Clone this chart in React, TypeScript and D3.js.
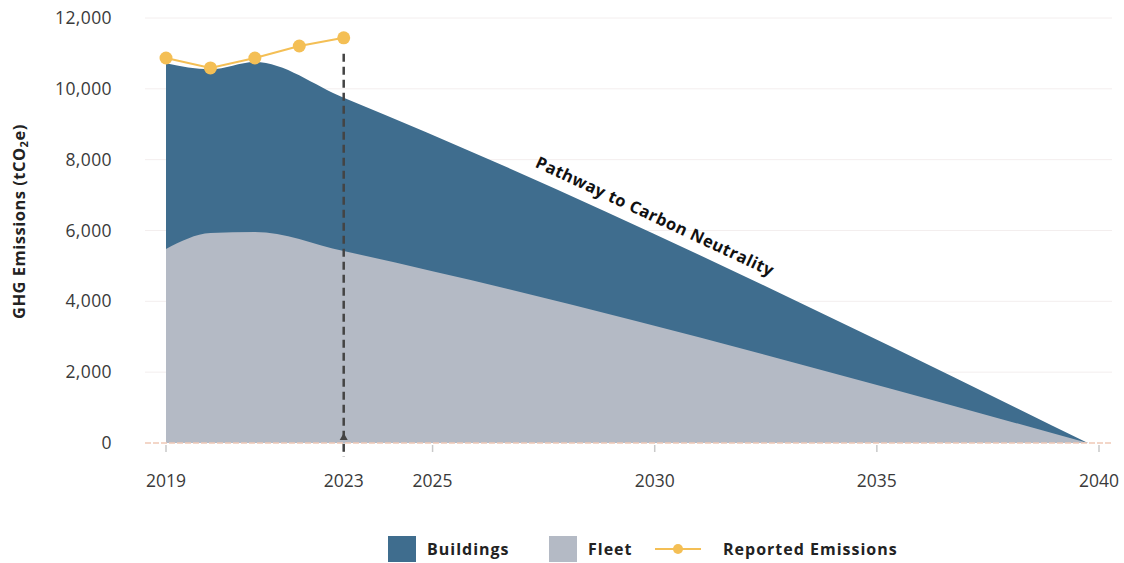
import React from "react";
import * as d3 from "d3";

const fleetYears = [2019, 2020, 2021, 2023, 2039.75];
const fleetValues = [5480, 5930, 5960, 5420, 0];
const totalYears = [2019, 2020, 2021, 2023, 2039.75];
const totalValues = [10720, 10550, 10760, 9750, 0];
const reportedYears = [2019, 2020, 2021, 2022, 2023];
const reportedValues = [10870, 10590, 10870, 11210, 11440];
const yTicks = [0, 2000, 4000, 6000, 8000, 10000, 12000];
const xTicks = [2019, 2023, 2025, 2030, 2035, 2040];

const W = 1124;
const H = 563;
const BLUE = "#3f6d8e";
const GRAY = "#b4bac5";
const ORANGE = "#f4bf55";
const FONT = "'Open Sans', Lato, sans-serif";

export default function App() {
  const x = d3.scaleLinear().domain([2019, 2040]).range([166, 1099]);
  const y = d3.scaleLinear().domain([0, 12000]).range([443, 18]);

  const total = totalYears.map((yr, i) => ({ x: yr, v: totalValues[i] }));
  const fleet = fleetYears.map((yr, i) => ({ x: yr, v: fleetValues[i] }));
  const reported = reportedYears.map((yr, i) => ({ x: yr, v: reportedValues[i] }));

  const area = d3
    .area<{ x: number; v: number }>()
    .x((d) => x(d.x))
    .y0(y(0))
    .y1((d) => y(d.v))
    .curve(d3.curveMonotoneX);
  const line = d3
    .line<{ x: number; v: number }>()
    .x((d) => x(d.x))
    .y((d) => y(d.v));

  const annX = x(2029.95);
  const annY = y(6250);

  return (
    <svg
      width={W}
      height={H}
      style={{ position: "absolute", left: 0, top: 0, background: "#fff" }}
      fontFamily={FONT}
    >
      {yTicks.slice(1).map((t) => (
        <line key={t} x1={145} x2={1112} y1={y(t)} y2={y(t)} stroke="#f3eeee" strokeWidth={1} />
      ))}
      <path d={area(total) || ""} fill={BLUE} />
      <path d={area(fleet) || ""} fill={GRAY} />
      <line x1={145} x2={1112} y1={y(0)} y2={y(0)} stroke="#f0c9b6" strokeWidth={1.5} strokeDasharray="6 2" />
      {xTicks.map((t) => (
        <line key={t} x1={x(t)} x2={x(t)} y1={y(0) + 2} y2={y(0) + 9} stroke="#c9c9c9" strokeWidth={1.5} />
      ))}
      {yTicks.map((t) => (
        <text key={t} x={112} y={y(t)} dy="0.35em" textAnchor="end" fontSize={17.5} letterSpacing={0.4} fill="#3a3a3a">
          {d3.format(",")(t)}
        </text>
      ))}
      {xTicks.map((t) => (
        <text key={t} x={x(t)} y={481} dy="0.35em" textAnchor="middle" fontSize={17.5} fill="#3a3a3a">
          {t}
        </text>
      ))}
      <text
        transform={`translate(19,${y(6250)}) rotate(-90)`}
        textAnchor="middle"
        dy="0.35em"
        fontSize={16.5}
        letterSpacing={0.5}
        fontWeight="bold"
        fill="#222"
      >
        GHG Emissions (tCO<tspan fontSize={11} dy="3">2</tspan><tspan dy="-3">e)</tspan>
      </text>
      {/* 2023 marker */}
      <line
        x1={x(2023)}
        x2={x(2023)}
        y1={y(11440) + 16}
        y2={y(0) + 14}
        stroke="#444"
        strokeWidth={2.5}
        strokeDasharray="8 5"
      />
      <path d={`M${x(2023)},${y(0) - 10} l-4,7 l8,0 z`} fill="#444" />
      <path d={line(reported) || ""} fill="none" stroke={ORANGE} strokeWidth={2} />
      {reported.map((d, i) => (
        <circle key={i} cx={x(d.x)} cy={y(d.v)} r={6.5} fill={ORANGE} />
      ))}
      <text
        transform={`translate(${annX},${annY}) rotate(25)`}
        textAnchor="middle"
        fontSize={16.5}
        letterSpacing={0.5}
        fontWeight="bold"
        fill="#111"
      >
        Pathway to Carbon Neutrality
      </text>
      {/* legend */}
      <rect x={388} y={536} width={28} height={26} fill={BLUE} />
      <text x={427} y={549} dy="0.35em" fontSize={16} fontWeight="bold" letterSpacing={1} fill="#222">
        Buildings
      </text>
      <rect x={549} y={536} width={28} height={26} fill={GRAY} />
      <text x={588} y={549} dy="0.35em" fontSize={16} fontWeight="bold" letterSpacing={1} fill="#222">
        Fleet
      </text>
      <line x1={655} x2={701} y1={549} y2={549} stroke={ORANGE} strokeWidth={2} />
      <circle cx={678} cy={549} r={5} fill={ORANGE} />
      <text x={723} y={549} dy="0.35em" fontSize={16} fontWeight="bold" letterSpacing={1} fill="#222">
        Reported Emissions
      </text>
    </svg>
  );
}
